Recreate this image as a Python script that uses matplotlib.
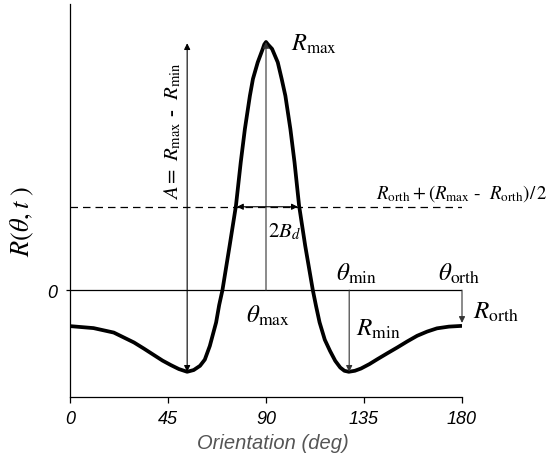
import matplotlib
matplotlib.use('Agg')
import matplotlib.pyplot as plt

plt.rcParams['font.family'] = ['Liberation Sans', 'DejaVu Sans']
plt.rcParams['mathtext.fontset'] = 'stix'

# tuning curve (deg, response)
orientation = [0, 10.8, 20.1, 29.4, 34, 38.6, 42.5, 46.3, 50, 53.8, 56.8, 59.7, 61.9,
               64.2, 67.1, 68.5, 70, 73.3, 76.2, 78.4, 80.3, 82.6, 84, 86.2, 88.5,
               89.2, 90, 90.9, 92.8, 95.4, 97.2, 98.9, 101.2, 103.1, 105.2, 108,
               111.5, 113, 114.6, 117, 119.4, 121.8, 124.1, 126, 128, 130.8, 133.6,
               137.5, 141.2, 145.8, 150.3, 154.8, 159.4, 164, 168.5, 174, 180]
response = [-0.145, -0.153, -0.171, -0.211, -0.236, -0.262, -0.284, -0.302, -0.318,
            -0.329, -0.322, -0.305, -0.28, -0.225, -0.13, -0.06, 0.0, 0.179, 0.34,
            0.515, 0.649, 0.783, 0.851, 0.918, 0.972, 0.99, 1.0, 0.99, 0.972, 0.918,
            0.851, 0.783, 0.649, 0.515, 0.34, 0.179, 0.0, -0.065, -0.13, -0.2, -0.245,
            -0.285, -0.312, -0.325, -0.329, -0.325, -0.316, -0.298, -0.278, -0.254,
            -0.231, -0.207, -0.184, -0.167, -0.154, -0.147, -0.144]

xticks = [0, 45, 90, 135, 180]
theta_max, r_max = 90, 1.0
theta_min_l, theta_min_r, r_min = 53.8, 128.2, -0.329
theta_orth, r_orth = 180, -0.132
half_level = 0.336
bw_left, bw_right = 76.7, 104.6

fig = plt.figure(figsize=(5.6, 4.56), dpi=100)
ax = fig.add_axes([0.125, 0.127, 0.70, 0.862])

ax.plot(orientation, response, color='black', lw=2.7, solid_joinstyle='round',
        solid_capstyle='butt', zorder=3)
ax.axhline(0, color='black', lw=0.9)
ax.axhline(half_level, color='black', lw=0.9, dashes=(6, 4))

arr = dict(arrowstyle='-|>', lw=0.8, color='black', mutation_scale=9,
           shrinkA=0, shrinkB=0)
arr2 = dict(arr, arrowstyle='<|-|>')
grey = dict(arr, color='#333333')

ax.annotate('', xy=(theta_min_l, r_max - 0.005), xytext=(theta_min_l, r_min), arrowprops=arr2)
ax.annotate('', xy=(theta_max, r_max), xytext=(theta_max, 0), arrowprops=grey)
ax.annotate('', xy=(bw_left, half_level), xytext=(bw_right, half_level), arrowprops=arr2)
ax.annotate('', xy=(theta_min_r, r_min), xytext=(theta_min_r, 0), arrowprops=grey)
ax.annotate('', xy=(theta_orth, r_orth), xytext=(theta_orth, 0), arrowprops=grey)

fs = 18
serif = 'Liberation Serif'
ax.text(101.4, 0.996, r'$R_{\mathrm{max}}$', fontsize=17.5, ha='left', va='center')
ax.text(140.6, 0.395, r'$R_{\mathrm{orth}}+(R_{\mathrm{max}}$ - $\ R_{\mathrm{orth}})/\,2$',
        fontsize=13.5, ha='left', va='center', family=serif)
ax.text(47.2, 0.645, r'$A=\ R_{\mathrm{max}}$ - $\ R_{\mathrm{min}}$', fontsize=15,
        rotation=90, ha='center', va='center', family=serif)
ax.text(91.0, 0.238, r'$2B_{d}$', fontsize=15, ha='left', va='center')
ax.text(90.8, -0.10, r'$\theta_{\mathrm{max}}$', fontsize=fs, ha='center', va='center')
ax.text(131.7, 0.069, r'$\theta_{\mathrm{min}}$', fontsize=fs, ha='center', va='center')
ax.text(178.6, 0.069, r'$\theta_{\mathrm{orth}}$', fontsize=fs, ha='center', va='center')
ax.text(131.2, -0.153, r'$R_{\mathrm{min}}$', fontsize=fs, ha='left', va='center')
ax.text(185.0, -0.083, r'$R_{\mathrm{orth}}$', fontsize=fs, ha='left', va='center')
ax.text(-21.8, 0.28, r'$R(\theta,t\ )$', fontsize=19, rotation=90, ha='center', va='center')

ax.set_xlim(0, 180)
ax.set_ylim(-0.431, 1.153)
ax.set_xticks(xticks)
ax.set_xticklabels([str(t) for t in xticks], fontstyle='italic', fontsize=13)
ax.set_yticks([0])
ax.set_yticklabels(['0'], fontstyle='italic', fontsize=13)
ax.tick_params(axis='x', direction='out', length=4, width=0.9, pad=5)
ax.tick_params(axis='y', direction='out', length=3, width=0.9, pad=6)
ax.set_xlabel('Orientation (deg)', fontstyle='italic', fontsize=14.5, color='#555555')
ax.xaxis.set_label_coords(0.518, -0.092)
for side in ['top', 'right']:
    ax.spines[side].set_visible(False)
for side in ['left', 'bottom']:
    ax.spines[side].set_linewidth(0.9)

fig.savefig('out.png', dpi=100)
